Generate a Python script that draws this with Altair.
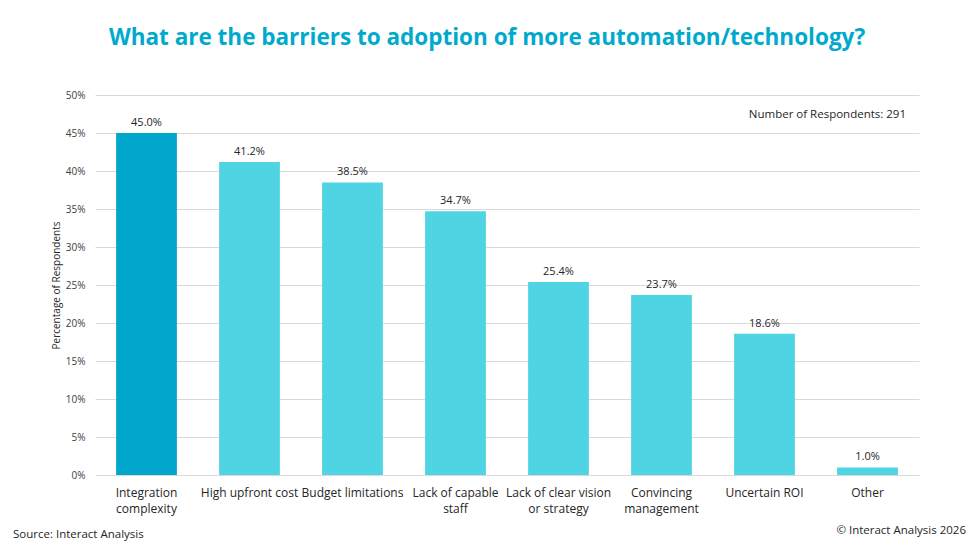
import altair as alt
import pandas as pd

categories = ["Integration complexity", "High upfront cost", "Budget limitations",
              "Lack of capable staff", "Lack of clear vision or strategy",
              "Convincing management", "Uncertain ROI", "Other"]
label_lines = ["Integration|complexity", "High upfront cost", "Budget limitations",
               "Lack of capable|staff", "Lack of clear vision|or strategy",
               "Convincing|management", "Uncertain ROI", "Other"]
values = [45.0, 41.2, 38.5, 34.7, 25.4, 23.7, 18.6, 1.0]
highlight = [True, False, False, False, False, False, False, False]
y_ticks = [0, 0.05, 0.10, 0.15, 0.20, 0.25, 0.30, 0.35, 0.40, 0.45, 0.50]

df = pd.DataFrame({"cat": label_lines, "value": [v / 100 for v in values],
                   "hl": highlight,
                   "lab": [f"{v:.1f}%" for v in values]})

FONT = "Open Sans"
W, H = 824, 380

x = alt.X("cat:N", sort=label_lines, title=None,
          scale=alt.Scale(paddingInner=0.41, paddingOuter=0.205),
          axis=alt.Axis(labelExpr="split(datum.value, '|')", labelAngle=0,
                        labelFontSize=12, labelColor="#262626", labelFont=FONT,
                        labelPadding=12, labelLineHeight=16, domain=False,
                        ticks=False, labelOverlap=False))
y = alt.Y("value:Q", title="Percentage of Respondents",
          scale=alt.Scale(domain=[0, 0.5]),
          axis=alt.Axis(format=".0%", values=y_ticks,
                        labelFontSize=10, labelColor="#404040", labelFont=FONT,
                        titleFontSize=10, titleColor="#262626", titleFont=FONT,
                        titleFontWeight="normal", titlePadding=4,
                        domain=False, ticks=False, labelPadding=10,
                        labelOverlap=False, gridColor="#D9D9D9"))

bars = alt.Chart(df).mark_bar().encode(
    x=x, y=y,
    color=alt.Color("hl:N", scale=alt.Scale(domain=[True, False],
                                            range=["#00A6CB", "#4ED4E2"]),
                    legend=None))

labels = alt.Chart(df).mark_text(dy=-10, fontSize=11, font=FONT,
                                 color="#262626").encode(
    x=x, y=y, text="lab:N")

def note(txt, xv, yv, **kw):
    return alt.Chart(pd.DataFrame({"t": [txt]})).mark_text(font=FONT, **kw).encode(
        x=alt.value(xv), y=alt.value(yv), text="t:N")

title = note("What are the barriers to adoption of more automation/technology?",
             392, -57, fontSize=22.5, fontWeight="bold", color="#00AACC",
             align="center", baseline="middle")
resp = note("Number of Respondents: 291", 811, 20, fontSize=11.5,
            color="#262626", align="right", baseline="middle")
src = note("Source: Interact Analysis", -82, 440, fontSize=11.5,
           color="#262626", align="left", baseline="middle")
copy = note("© Interact Analysis 2026", 871, 436, fontSize=11.5,
            color="#262626", align="right", baseline="middle")

chart = alt.layer(bars, labels, title, resp, src, copy).properties(
    width=W, height=H,
    autosize=alt.AutoSizeParams(type="none"),
    padding={"left": 95, "top": 95, "right": 61, "bottom": 85},
    background="white",
).configure_view(stroke=None)

chart.save("out.html", embed_options={"renderer": "svg", "actions": False})
